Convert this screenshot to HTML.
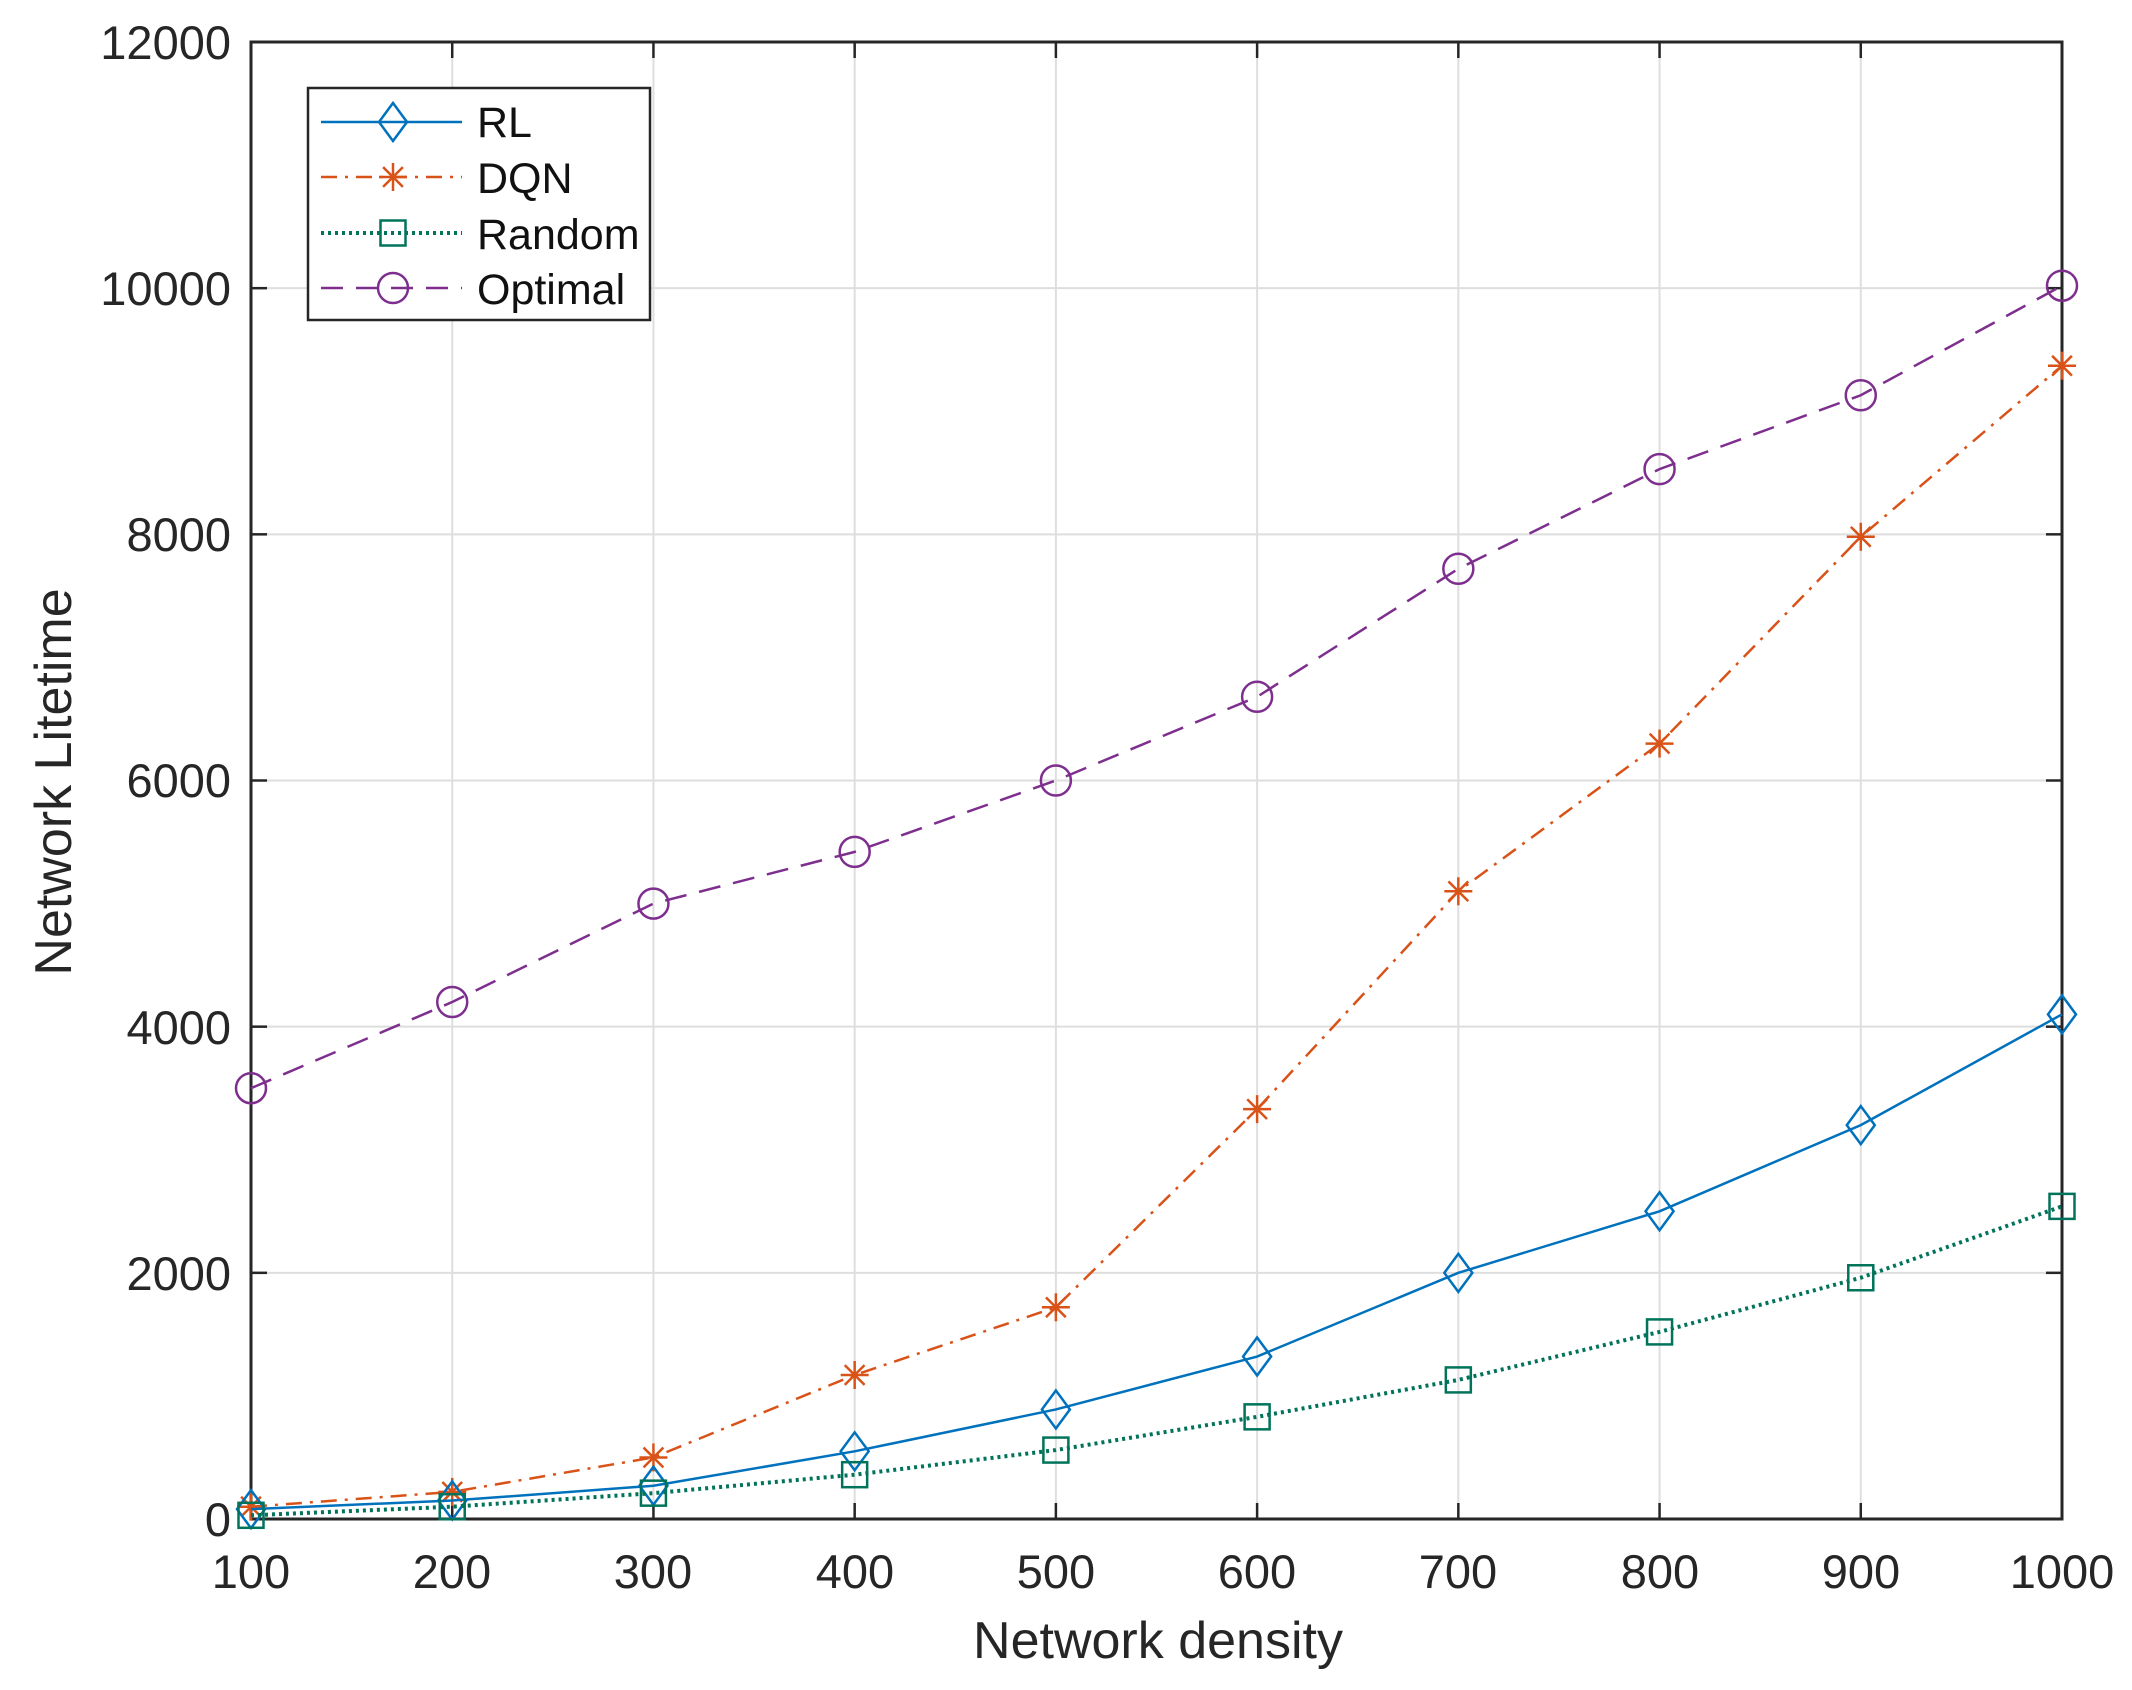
<!DOCTYPE html>
<html><head><meta charset="utf-8"><style>
html,body{margin:0;padding:0;background:#fff;}
svg{display:block;font-family:"Liberation Sans",Arial,sans-serif;}
</style></head><body>
<svg id="s" width="2132" height="1690" viewBox="0 0 2132 1690" xmlns="http://www.w3.org/2000/svg">
<rect width="2132" height="1690" fill="#fff"/>
<g id="grid" stroke="#dedede" stroke-width="2"></g>
<g id="ticks" stroke="#262626" stroke-width="2.5"></g>
<rect x="251" y="42" width="1811" height="1477" fill="none" stroke="#262626" stroke-width="3"/>
<g font-size="47" fill="#262626" text-anchor="end">
<text x="231" y="59">12000</text>
<text x="231" y="305">10000</text>
<text x="231" y="551">8000</text>
<text x="231" y="797">6000</text>
<text x="231" y="1044">4000</text>
<text x="231" y="1290">2000</text>
<text x="231" y="1536">0</text>
</g>
<g font-size="47" fill="#262626" text-anchor="middle">
<text x="251" y="1588">100</text>
<text x="452" y="1588">200</text>
<text x="653" y="1588">300</text>
<text x="855" y="1588">400</text>
<text x="1056" y="1588">500</text>
<text x="1257" y="1588">600</text>
<text x="1458" y="1588">700</text>
<text x="1660" y="1588">800</text>
<text x="1861" y="1588">900</text>
<text x="2062" y="1588">1000</text>
<text x="1158" y="1658" font-size="52">Network density</text>
<text transform="translate(71,782) rotate(-90)" font-size="52">Network Litetime</text>
</g>
<g id="series"></g>
<rect x="308" y="88" width="342" height="232" fill="#fff" stroke="#262626" stroke-width="2.5"/>
<g id="leg"></g>
<g font-size="43" fill="#111">
<text x="477" y="137">RL</text>
<text x="477" y="193">DQN</text>
<text x="477" y="249">Random</text>
<text x="477" y="304">Optimal</text>
</g>
</svg>
<script>
const NS="http://www.w3.org/2000/svg";
function el(p,t,a){const e=document.createElementNS(NS,t);for(const k in a)e.setAttribute(k,a[k]);p.appendChild(e);return e;}
const L=251,R=2062,T=42,B=1519;
const X=i=>L+i*(R-L)/9, Y=v=>B-v*(B-T)/12000;
const g=document.getElementById('grid'),tk=document.getElementById('ticks');
for(let i=0;i<10;i++){const x=X(i);if(i>0&&i<9)el(g,'line',{x1:x,y1:T,x2:x,y2:B});el(tk,'line',{x1:x,y1:B,x2:x,y2:B-16});el(tk,'line',{x1:x,y1:T,x2:x,y2:T+16});}
for(let v=0;v<=12000;v+=2000){const y=Y(v);if(v>0&&v<12000)el(g,'line',{x1:L,y1:y,x2:R,y2:y});el(tk,'line',{x1:L,y1:y,x2:L+16,y2:y});el(tk,'line',{x1:R,y1:y,x2:R-16,y2:y});}
const S=[
{c:'#7E2F8E',d:[3500,4200,5000,5420,6000,6680,7720,8530,9130,10020],dash:'22,13',m:'o'},
{c:'#D95319',d:[100,220,500,1170,1720,3330,5100,6300,7980,9370],dash:'16,8,3,8',m:'*'},
{c:'#0072BD',d:[80,150,270,550,890,1320,2000,2500,3200,4100],dash:'',m:'d'},
{c:'#00735A',d:[30,100,210,360,560,830,1130,1520,1960,2540],dash:'3,4',m:'s'}];
function marker(p,m,x,y,c){
 const a={fill:'none',stroke:c,'stroke-width':2.5};
 if(m=='o')el(p,'circle',Object.assign({cx:x,cy:y,r:15},a));
 else if(m=='d')el(p,'polygon',Object.assign({points:`${x},${y-19} ${x+14},${y} ${x},${y+19} ${x-14},${y}`},a));
 else if(m=='s')el(p,'rect',Object.assign({x:x-12.5,y:y-12.5,width:25,height:25},a));
 else{for(let k=0;k<4;k++){const an=k*Math.PI/4,dx=14*Math.sin(an),dy=14*Math.cos(an);el(p,'line',{x1:x-dx,y1:y-dy,x2:x+dx,y2:y+dy,stroke:c,'stroke-width':2.5});}}
}
const sg=document.getElementById('series'),lg=document.getElementById('leg');
for(const s of S){
 el(sg,'polyline',{points:s.d.map((v,i)=>X(i)+','+Y(v)).join(' '),fill:'none',stroke:s.c,'stroke-width':s.m=='s'?4:2.5,'stroke-dasharray':s.dash});
 s.d.forEach((v,i)=>marker(sg,s.m,X(i),Y(v),s.c));
}
const LR=[['d',122,'#0072BD',''],['*',177,'#D95319','16,8,3,8'],['s',233,'#00735A','3,4'],['o',288,'#7E2F8E','22,13']];
for(const [m,y,c,d] of LR){el(lg,'line',{x1:321,y1:y,x2:462,y2:y,stroke:c,'stroke-width':m=='s'?4:2.5,'stroke-dasharray':d});marker(lg,m,393,y,c);}
</script>
</body></html>
